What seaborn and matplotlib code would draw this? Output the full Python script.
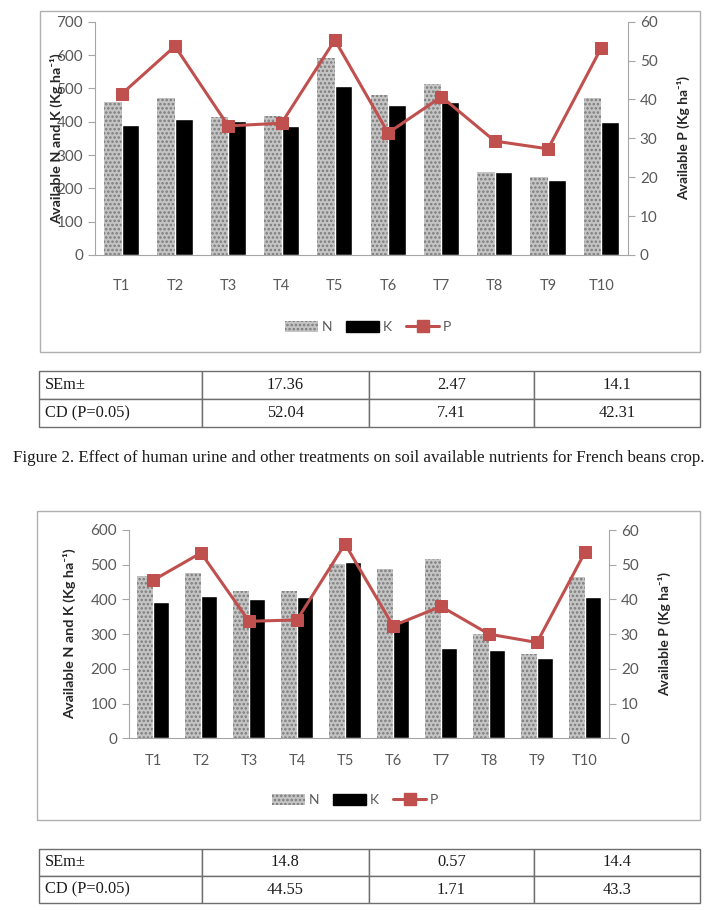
import numpy as np
import pandas as pd
import matplotlib
matplotlib.use("Agg")
import matplotlib.pyplot as plt
from matplotlib.patches import Rectangle, Patch
from matplotlib.lines import Line2D
import seaborn as sns

sns.set_style("white")
plt.rcParams["font.family"] = ["Lato", "DejaVu Sans"]
plt.rcParams["hatch.linewidth"] = 1.2

W, H = 715, 910

# ---------------------------------------------------
# data
# ---------------------------------------------------
treatments = ["T1", "T2", "T3", "T4", "T5", "T6", "T7", "T8", "T9", "T10"]

# chart 1
n1 = [458, 470, 415, 417, 590, 480, 513, 250, 235, 472]
k1 = [389, 407, 402, 386, 506, 450, 460, 250, 225, 400]
p1 = [41.4, 53.7, 33.2, 33.9, 55.3, 31.4, 40.7, 29.3, 27.3, 53.3]
sem1 = ["17.36", "2.47", "14.1"]
cd1 = ["52.04", "7.41", "42.31"]

# chart 2
n2 = [468, 476, 423, 425, 503, 487, 517, 301, 242, 466]
k2 = [392, 411, 402, 407, 508, 341, 260, 253, 230, 407]
p2 = [45.5, 53.4, 33.7, 34.1, 56.0, 32.4, 38.0, 30.0, 27.6, 53.6]
sem2 = ["14.8", "0.57", "14.4"]
cd2 = ["44.55", "1.71", "43.3"]

caption = ("Figure 2. Effect of human urine and other treatments on soil "
           "available nutrients for French beans crop.")

N_FACE = "#c4c4c4"
N_HATCH = "#7a7a7a"
P_RED = "#c0504d"
AX_GRAY = "#a6a6a6"
TXT_GRAY = "#595959"


def px_rect(left, top, right, bottom):
    # pixel box -> figure fraction [l, b, w, h]
    return [left / W, 1 - bottom / H, (right - left) / W, (bottom - top) / H]


def draw_chart(fig, rect, n_vals, k_vals, p_vals, ymax, lab_x, rlab_x,
               xpad, leg_xy):
    ax = fig.add_axes(rect)
    df = pd.DataFrame({"treat": treatments * 2,
                       "nutrient": ["N"] * 10 + ["K"] * 10,
                       "value": n_vals + k_vals})
    sns.barplot(data=df, x="treat", y="value", hue="nutrient",
                palette={"N": N_FACE, "K": "black"}, width=0.66,
                saturation=1, ax=ax, legend=False)
    for bar in ax.patches[:10]:
        bar.set_hatch("....")
        bar.set_edgecolor(N_HATCH)
        bar.set_linewidth(0)

    ax.set_xlim(-0.5, 9.5)
    ax.set_ylim(0, ymax)
    ax.set_yticks(np.arange(0, ymax + 1, 100))
    ax.set_xlabel("")
    ax.set_ylabel("Available N and K (Kg ha⁻¹)", fontsize=10.4,
                  fontweight="bold", color="#262626")
    ax.yaxis.set_label_coords(lab_x, 0.5)
    ax.set_xticks(np.arange(-0.5, 10, 1), minor=True)
    ax.tick_params(axis="x", which="major", length=0, pad=xpad,
                   labelsize=10.5, labelcolor=TXT_GRAY)
    ax.tick_params(axis="x", which="minor", length=5, color=AX_GRAY,
                   direction="out")
    ax.tick_params(axis="y", length=5, color=AX_GRAY, direction="out",
                   labelsize=11, labelcolor=TXT_GRAY, left=True)
    for s in ["top", "right"]:
        ax.spines[s].set_visible(False)
    for s in ["left", "bottom"]:
        ax.spines[s].set_color(AX_GRAY)

    ax2 = ax.twinx()
    sns.lineplot(x=np.arange(10), y=p_vals, ax=ax2, color=P_RED,
                 linewidth=2.2, marker="s", markersize=9,
                 markeredgecolor=P_RED, markerfacecolor=P_RED)
    ax2.set_ylim(0, 60)
    ax2.set_yticks(np.arange(0, 61, 10))
    ax2.set_ylabel("Available P (Kg ha⁻¹)", fontsize=10,
                   fontweight="bold", color="#262626")
    ax2.yaxis.set_label_coords(rlab_x, 0.5)
    ax2.tick_params(axis="y", length=5, color=AX_GRAY, direction="out",
                    labelsize=11, labelcolor=TXT_GRAY, right=True)
    for s in ["top", "left", "bottom"]:
        ax2.spines[s].set_visible(False)
    ax2.spines["right"].set_color(AX_GRAY)

    handles = [Patch(facecolor=N_FACE, edgecolor=N_HATCH, hatch="....",
                     linewidth=0),
               Patch(facecolor="black", edgecolor="black"),
               Line2D([], [], color=P_RED, lw=2.2, marker="s",
                      markersize=8)]
    fig.legend(handles, ["N", "K", "P"], loc="center",
               bbox_to_anchor=(leg_xy[0] / W, 1 - leg_xy[1] / H), ncol=3,
               frameon=False, fontsize=10, handlelength=2.4,
               handleheight=0.9, handletextpad=0.25, columnspacing=1.0,
               labelcolor=TXT_GRAY)
    return ax


def draw_table(fig, rect, sem, cd):
    tax = fig.add_axes(rect)
    tax.axis("off")
    cells = [["SEm±"] + sem, ["CD (P=0.05)"] + cd]
    tb = tax.table(cellText=cells, bbox=[0, 0, 1, 1],
                   colWidths=[163, 167, 165, 166], cellLoc="center")
    tb.auto_set_font_size(False)
    for (r, c), cell in tb.get_celld().items():
        cell.set_edgecolor("#6e6e6e")
        cell.set_linewidth(1.0)
        cell.get_text().set_fontfamily("Liberation Serif")
        cell.get_text().set_fontsize(11.8)
        cell.get_text().set_color("#1a1a1a")
        if c == 0:
            cell.get_text().set_ha("left")
            cell.PAD = 0.035
    return tax


fig = plt.figure(figsize=(W / 100, H / 100), dpi=100)

# chart boxes
fig.patches.append(Rectangle((40 / W, 1 - 352 / H), 660 / W, 341 / H,
                             transform=fig.transFigure, fill=False,
                             edgecolor="#b0b0b0", linewidth=1))
fig.patches.append(Rectangle((37 / W, 1 - 820 / H), 663 / W, 309 / H,
                             transform=fig.transFigure, fill=False,
                             edgecolor="#b0b0b0", linewidth=1))

draw_chart(fig, px_rect(95, 21.7, 628, 255), n1, k1, p1, 700,
           -0.060, 1.0916, 17, (368, 327))
draw_chart(fig, px_rect(129, 530, 609, 738.3), n2, k2, p2, 600,
           -0.110, 1.102, 11, (355, 800))

draw_table(fig, px_rect(39, 371, 700, 427), sem1, cd1)
draw_table(fig, px_rect(39, 849, 700, 903), sem2, cd2)

fig.text(13 / W, 1 - 458 / H, caption, ha="left", va="center",
         fontsize=12.2, family="Liberation Serif", color="#1a1a1a")

fig.savefig("out.png", dpi=100)
